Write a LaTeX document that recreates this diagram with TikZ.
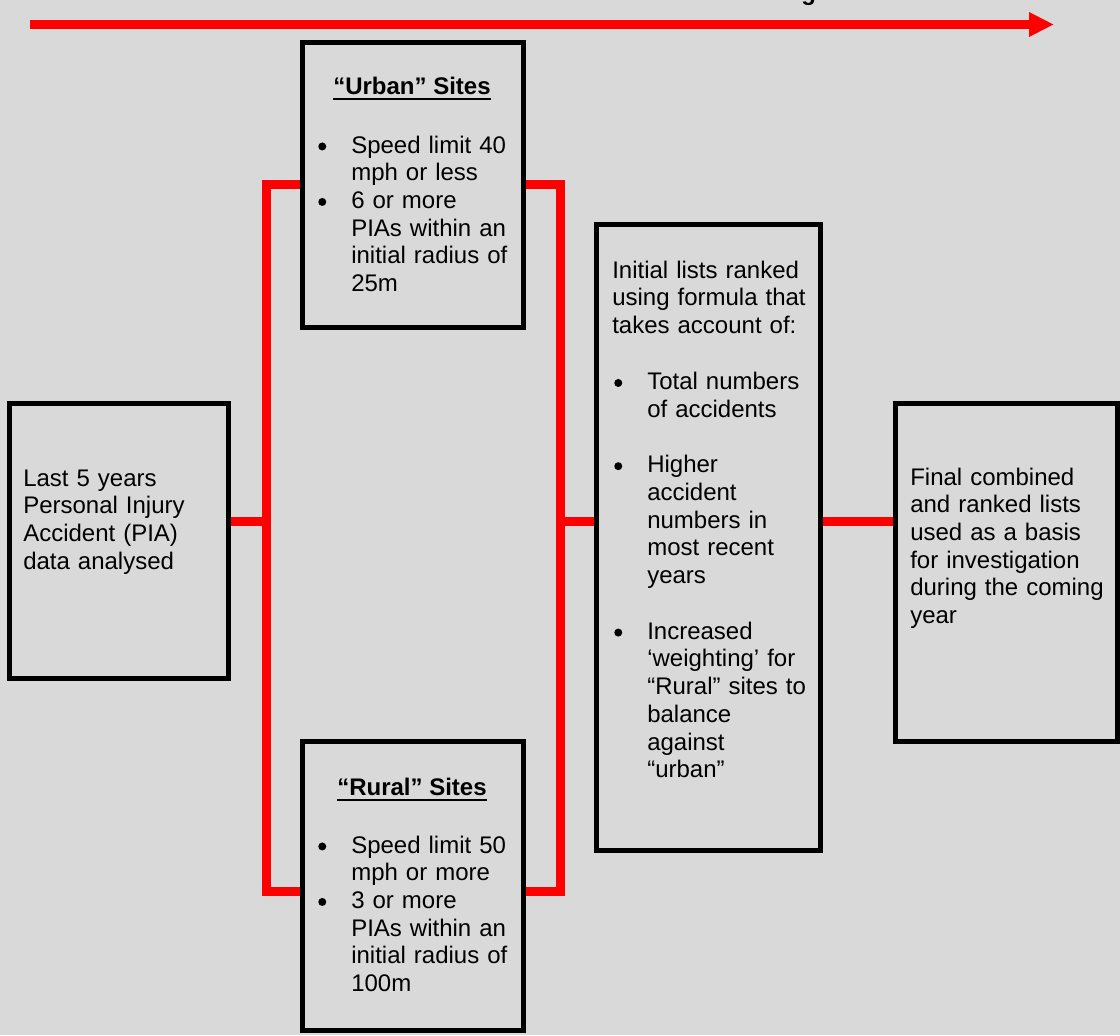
\documentclass[tikz,border=0pt]{standalone}
\usepackage{fontspec}
\setmainfont{Liberation Sans}
\usetikzlibrary{arrows.meta}
\definecolor{bggray}{HTML}{D9D9D9}
\definecolor{wirered}{HTML}{FF0000}
\pgfdeclarelayer{bg}
\pgfdeclarelayer{wires}
\pgfsetlayers{bg,wires,main}
\newcommand\bul{\leavevmode\llap{\tikz[baseline=0pt]{\fill[black] (0pt,4.9pt) circle (3pt);}\hspace{18.75pt}}}
\begin{document}
\begin{tikzpicture}[x=0.75pt,y=-0.75pt,
  stagebox/.style 2 args={draw=black,fill=bggray,line width=4.1pt,line join=miter,rectangle,inner sep=0pt,outer sep=0pt,minimum width=#1*0.75pt,minimum height=#2*0.75pt},
  txt/.style={anchor=base west,inner sep=0pt,align=left,text width=165pt,font=\fontsize{18pt}{20.8pt}\selectfont},
  ttl/.style={anchor=base,inner sep=0pt,font=\bfseries\fontsize{18pt}{20.8pt}\selectfont},
  wireline/.style={draw=wirered,line width=6.75pt,line join=miter},
  uline/.style={draw=black,line width=1.7pt}
]
\useasboundingbox (0,0) rectangle (1120,1035);
\begin{pgfonlayer}{bg}
\fill[bggray] (0,0) rectangle (1120,1035);
\end{pgfonlayer}

% boxes
\node[stagebox={218.5}{274.5}] (src) at (119,541) {};
\node[stagebox={220.5}{284.5}] (urban) at (413,185) {};
\node[stagebox={220.5}{288.5}] (rural) at (413,886) {};
\node[stagebox={223.5}{625.5}] (mid) at (708.5,537.5) {};
\node[stagebox={221.5}{337.5}] (final) at (1006.5,572.5) {};

% junction coordinates
\coordinate (tl) at (266,184.5);
\coordinate (bl) at (266,891.5);
\coordinate (jl) at (266,521.5);
\coordinate (tr) at (560,184.5);
\coordinate (br) at (560,891.5);
\coordinate (jr) at (560,521.5);
\coordinate (arrS) at (30,24.5);
\coordinate (arrE) at (1054,24.5);

\begin{pgfonlayer}{wires}
\draw[wireline] (src.east |- jl) -- (jl);
\draw[wireline] (urban.west |- tl) -- (tl) -- (bl) -- (rural.west |- bl);
\draw[wireline] (urban.east |- tr) -- (tr) -- (br) -- (rural.east |- br);
\draw[wireline] (jr) -- (mid.west |- jr);
\draw[wireline] (mid.east |- jr) -- (final.west |- jr);
\draw[wireline,-{Triangle[length=18.75pt,width=17.25pt]}] (arrS) -- (arrE);
\end{pgfonlayer}

% texts
\node[txt] (srctext) at (23,486) {Last 5 years\\Personal Injury\\Accident (PIA)\\data analysed};

\node[ttl] (urbantitle) at (412,94) {“Urban” Sites};
\draw[uline] ([yshift=-3.75pt]urbantitle.base west) -- ([yshift=-3.75pt]urbantitle.base east);
\node[txt] (urbanitems) at (351,153) {\bul Speed limit 40\\mph or less\\\bul 6 or more\\PIAs within an\\initial radius of\\25m};

\node[ttl] (ruraltitle) at (412,795) {“Rural” Sites};
\draw[uline] ([yshift=-3.75pt]ruraltitle.base west) -- ([yshift=-3.75pt]ruraltitle.base east);
\node[txt] (ruralitems) at (351,853) {\bul Speed limit 50\\mph or more\\\bul 3 or more\\PIAs within an\\initial radius of\\100m};

\node[txt] (midintro) at (612,278) {Initial lists ranked\\using formula that\\takes account of:};
\node[txt] (miditems) at (647,389.5) {\bul Total numbers\\of accidents\\[20.8pt]\bul Higher\\accident\\numbers in\\most recent\\years\\[20.8pt]\bul Increased\\‘weighting’ for\\“Rural” sites to\\balance\\against\\“urban”};

\node[txt] (finaltext) at (910,485) {Final combined\\and ranked lists\\used as a basis\\for investigation\\during the coming\\year};

\begin{scope}
\clip (0,0) rectangle (1120,1035);
\node[anchor=base west,inner sep=0pt,font=\bfseries\fontsize{18pt}{20.8pt}\selectfont] (titlecut) at (801,0) {g};
\end{scope}
\end{tikzpicture}
\end{document}
